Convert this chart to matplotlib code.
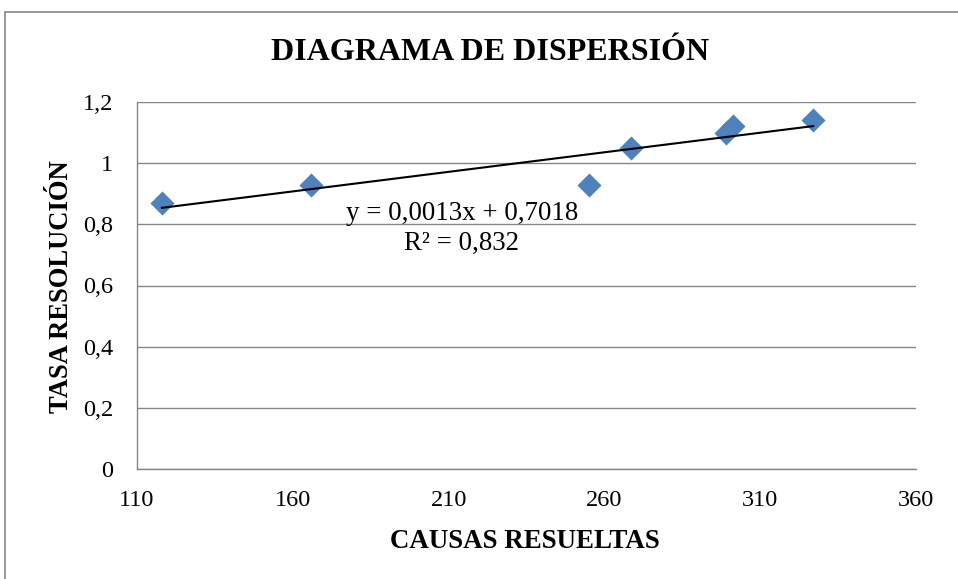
import matplotlib
matplotlib.use("Agg")
import matplotlib.pyplot as plt
import numpy as np
from matplotlib.patches import Rectangle

plt.rcParams['font.family'] = ['Liberation Serif', 'DejaVu Serif']

causas = [118, 166, 255, 268.5, 299, 301.3, 327]
tasa = [0.87, 0.93, 0.93, 1.05, 1.10, 1.12, 1.14]
x_ticks = [110, 160, 210, 260, 310, 360]
y_ticks = [0, 0.2, 0.4, 0.6, 0.8, 1.0, 1.2]
y_tick_labels = ['0', '0,2', '0,4', '0,6', '0,8', '1', '1,2']
equation = "y = 0,0013x + 0,7018"
r2_text = "R² = 0,832"

W, H = 958, 579
fig = plt.figure(figsize=(W/100, H/100), dpi=100)
ax = fig.add_axes([137/W, 1-469/H, (916-137)/W, (469-102)/H])

fig.patches.append(Rectangle((5/W, -0.1), 1.2, 1-12/H+0.1, transform=fig.transFigure,
                             fill=False, edgecolor='#868686', linewidth=1.2))

ax.set_xlim(110, 360)
ax.set_ylim(0, 1.2)
ax.set_yticks(y_ticks)
ax.set_yticklabels(y_tick_labels)
ax.set_xticks(x_ticks)
ax.set_xticklabels([str(t) for t in x_ticks])
ax.grid(axis='y', color='#868686', linewidth=1)
ax.set_axisbelow(True)
for s in ['top', 'right']:
    ax.spines[s].set_visible(False)
for s in ['left', 'bottom']:
    ax.spines[s].set_color('#868686')
    ax.spines[s].set_linewidth(1)
ax.tick_params(length=0, labelsize=17.5)
ax.tick_params(axis='y', pad=17)
ax.tick_params(axis='x', pad=15)

ax.scatter(causas, tasa, marker='D', s=150, color='#4F81BD', zorder=3, linewidths=0)

slope, intercept = np.polyfit(causas, tasa, 1)
xs = np.array([min(causas), max(causas)])
ax.plot(xs, slope*xs + intercept, color='black', linewidth=1.5, zorder=4)

ax.text(214.3, 0.836, equation, fontsize=19.4, ha='center', va='center', zorder=5)
ax.text(214.3, 0.739, r2_text, fontsize=19.4, ha='center', va='center', zorder=5)

fig.text(525/W, 1-541/H, 'CAUSAS RESUELTAS', fontsize=19.4, fontweight='bold',
         ha='center', va='center')
fig.text(62/W, 1-287/H, 'TASA RESOLUCIÓN', fontsize=19.2, fontweight='bold',
         ha='center', va='center', rotation=90)
fig.text(490/W, 1-53/H, 'DIAGRAMA DE DISPERSIÓN', fontsize=23, fontweight='bold',
         ha='center', va='center')

fig.savefig('out.png', dpi=100)
